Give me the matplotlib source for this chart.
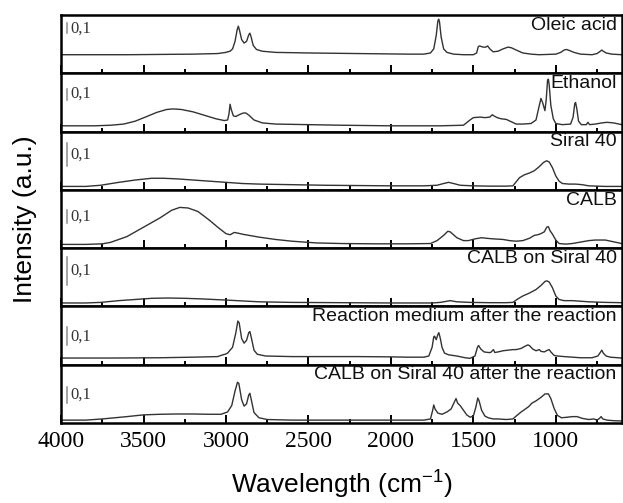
import numpy as np
import matplotlib
matplotlib.use('Agg')
import matplotlib.pyplot as plt
from matplotlib.ticker import MultipleLocator
import matplotlib.transforms as mtransforms

plt.rcParams['font.family'] = 'Liberation Sans'
plt.rcParams['mathtext.fontset'] = 'custom'
plt.rcParams['mathtext.rm'] = 'Liberation Sans'
plt.rcParams['mathtext.default'] = 'regular'

# spectra: wavenumber (cm-1) and intensity (fraction of panel height)
oleic_wn = [4000, 3800, 3600, 3400, 3200, 3050, 3000, 2990, 2975, 2960, 2945, 2932, 2925, 2918, 2905,
            2890, 2875, 2862, 2855, 2848, 2835, 2815, 2780, 2700, 2500, 2200, 1900, 1800, 1760, 1740,
            1725, 1715, 1710, 1705, 1695, 1680, 1660, 1620, 1560, 1500, 1480, 1470, 1462, 1440, 1425,
            1413, 1400, 1380, 1350, 1320, 1290, 1270, 1240, 1200, 1150, 1100, 1000, 970, 950, 935,
            915, 890, 850, 780, 750, 730, 721, 712, 695, 660, 600]
oleic_ab = [0.32, 0.32, 0.32, 0.325, 0.33, 0.34, 0.36, 0.37, 0.38, 0.42, 0.55, 0.75, 0.81, 0.74, 0.58,
            0.52, 0.55, 0.66, 0.69, 0.63, 0.48, 0.41, 0.38, 0.36, 0.35, 0.34, 0.33, 0.33, 0.35, 0.42,
            0.65, 0.90, 0.93, 0.88, 0.62, 0.42, 0.36, 0.33, 0.32, 0.32, 0.35, 0.46, 0.47, 0.45, 0.45,
            0.47, 0.42, 0.37, 0.38, 0.42, 0.45, 0.44, 0.40, 0.35, 0.33, 0.32, 0.33, 0.36, 0.40, 0.41,
            0.39, 0.36, 0.33, 0.32, 0.34, 0.38, 0.40, 0.38, 0.35, 0.33, 0.32]

ethanol_wn = [4000, 3800, 3700, 3620, 3550, 3480, 3420, 3360, 3320, 3270, 3200, 3130, 3060, 3010,
              2990, 2982, 2975, 2968, 2955, 2940, 2920, 2895, 2880, 2860, 2830, 2780, 2700, 2500,
              2300, 2000, 1700, 1560, 1520, 1500, 1460, 1430, 1400, 1385, 1375, 1355, 1330, 1300,
              1270, 1240, 1200, 1150, 1120, 1100, 1090, 1080, 1066, 1058, 1050, 1045, 1040, 1030,
              1015, 1000, 960, 910, 895, 885, 880, 873, 862, 845, 815, 805, 795, 760, 720, 690, 650, 600]
ethanol_ab = [0.10, 0.10, 0.11, 0.13, 0.18, 0.26, 0.33, 0.38, 0.39, 0.38, 0.34, 0.28, 0.22, 0.19,
              0.20, 0.30, 0.47, 0.38, 0.27, 0.26, 0.29, 0.32, 0.32, 0.28, 0.20, 0.15, 0.13, 0.12,
              0.11, 0.10, 0.10, 0.11, 0.20, 0.24, 0.25, 0.24, 0.25, 0.29, 0.27, 0.24, 0.22, 0.21,
              0.17, 0.13, 0.13, 0.14, 0.20, 0.45, 0.57, 0.50, 0.36, 0.55, 0.88, 0.90, 0.80, 0.45,
              0.22, 0.14, 0.12, 0.13, 0.25, 0.48, 0.50, 0.40, 0.18, 0.12, 0.12, 0.16, 0.12, 0.13,
              0.15, 0.16, 0.15, 0.12]

siral_wn = [4000, 3850, 3760, 3650, 3550, 3450, 3380, 3300, 3200, 3100, 3000, 2900, 2800, 2600, 2400,
            2200, 2000, 1800, 1720, 1680, 1650, 1620, 1580, 1500, 1400, 1300, 1260, 1240, 1220, 1190,
            1160, 1130, 1100, 1075, 1056, 1040, 1020, 1000, 980, 960, 920, 880, 840, 800, 700, 600]
siral_ab = [0.06, 0.06, 0.08, 0.13, 0.17, 0.20, 0.20, 0.19, 0.17, 0.15, 0.13, 0.11, 0.10, 0.09, 0.08,
            0.075, 0.07, 0.07, 0.08, 0.11, 0.13, 0.11, 0.08, 0.07, 0.065, 0.065, 0.07, 0.14, 0.21, 0.26,
            0.29, 0.33, 0.40, 0.47, 0.50, 0.48, 0.38, 0.24, 0.15, 0.11, 0.10, 0.10, 0.09, 0.07, 0.06, 0.06]

calb_wn = [4000, 3850, 3750, 3700, 3600, 3500, 3400, 3330, 3280, 3230, 3170, 3100, 3050, 3000, 2975,
           2950, 2930, 2900, 2800, 2700, 2600, 2450, 2300, 2100, 1900, 1760, 1720, 1680, 1655, 1640,
           1600, 1560, 1530, 1490, 1450, 1420, 1380, 1320, 1280, 1240, 1200, 1160, 1130, 1110, 1090,
           1070, 1055, 1045, 1035, 1020, 1000, 980, 940, 900, 860, 800, 760, 700, 650, 600]
calb_ab = [0.065, 0.065, 0.075, 0.10, 0.20, 0.36, 0.52, 0.65, 0.70, 0.69, 0.63, 0.48, 0.36, 0.25, 0.23,
           0.27, 0.26, 0.24, 0.19, 0.15, 0.12, 0.09, 0.08, 0.075, 0.075, 0.08, 0.13, 0.22, 0.29, 0.28,
           0.18, 0.13, 0.13, 0.16, 0.18, 0.17, 0.16, 0.15, 0.13, 0.12, 0.13, 0.17, 0.22, 0.23, 0.25,
           0.28, 0.36, 0.37, 0.30, 0.24, 0.14, 0.08, 0.07, 0.08, 0.10, 0.13, 0.14, 0.14, 0.11, 0.08]

calb_siral_wn = [4000, 3850, 3760, 3650, 3550, 3450, 3350, 3250, 3150, 3000, 2900, 2800, 2600, 2300,
                 2000, 1750, 1700, 1660, 1640, 1600, 1520, 1400, 1300, 1260, 1230, 1200, 1160, 1120,
                 1090, 1065, 1055, 1040, 1020, 1000, 980, 950, 900, 850, 800, 700, 600]
calb_siral_ab = [0.06, 0.06, 0.07, 0.10, 0.12, 0.14, 0.145, 0.14, 0.13, 0.11, 0.095, 0.08, 0.07, 0.065,
                 0.06, 0.06, 0.07, 0.09, 0.10, 0.08, 0.07, 0.065, 0.065, 0.07, 0.13, 0.18, 0.23, 0.29,
                 0.36, 0.43, 0.44, 0.42, 0.32, 0.18, 0.12, 0.10, 0.10, 0.09, 0.08, 0.07, 0.065]

medium_wn = [4000, 3700, 3400, 3200, 3050, 3020, 3005, 2990, 2960, 2940, 2928, 2920, 2905, 2890, 2875,
             2862, 2855, 2845, 2830, 2810, 2760, 2600, 2400, 2200, 2000, 1900, 1800, 1770, 1750, 1740,
             1735, 1725, 1715, 1709, 1700, 1690, 1675, 1650, 1600, 1550, 1520, 1490, 1475, 1468, 1455,
             1435, 1410, 1395, 1385, 1378, 1370, 1350, 1320, 1290, 1260, 1240, 1210, 1185, 1170, 1160,
             1140, 1120, 1100, 1090, 1070, 1050, 1040, 1030, 1010, 990, 950, 900, 850, 780, 745, 728,
             721, 712, 695, 670, 600]
medium_ab = [0.115, 0.115, 0.12, 0.13, 0.14, 0.17, 0.18, 0.20, 0.30, 0.55, 0.75, 0.72, 0.45, 0.37, 0.42,
             0.55, 0.57, 0.45, 0.25, 0.18, 0.15, 0.14, 0.14, 0.14, 0.135, 0.13, 0.13, 0.15, 0.30, 0.48,
             0.49, 0.43, 0.52, 0.55, 0.45, 0.30, 0.20, 0.17, 0.15, 0.12, 0.11, 0.15, 0.30, 0.33, 0.27,
             0.22, 0.21, 0.21, 0.24, 0.26, 0.21, 0.22, 0.24, 0.25, 0.26, 0.26, 0.28, 0.32, 0.34, 0.33,
             0.27, 0.24, 0.26, 0.23, 0.22, 0.25, 0.26, 0.22, 0.16, 0.15, 0.14, 0.13, 0.12, 0.12, 0.15,
             0.22, 0.25, 0.20, 0.15, 0.13, 0.115]

after_wn = [4000, 3850, 3750, 3600, 3500, 3400, 3300, 3200, 3100, 3030, 3010, 2990, 2965, 2945, 2930,
            2922, 2905, 2890, 2875, 2862, 2855, 2845, 2830, 2800, 2750, 2600, 2300, 2000, 1800, 1760,
            1748, 1740, 1732, 1715, 1690, 1660, 1635, 1615, 1605, 1595, 1580, 1560, 1540, 1520, 1500,
            1485, 1473, 1465, 1450, 1430, 1410, 1380, 1350, 1300, 1260, 1240, 1210, 1185, 1165, 1145,
            1120, 1090, 1065, 1045, 1030, 1010, 990, 965, 930, 900, 870, 840, 800, 770, 750, 735,
            725, 715, 690, 650, 600]
after_ab = [0.05, 0.05, 0.07, 0.11, 0.14, 0.15, 0.155, 0.155, 0.15, 0.15, 0.17, 0.19, 0.30, 0.55, 0.70,
            0.68, 0.40, 0.29, 0.33, 0.48, 0.51, 0.38, 0.18, 0.09, 0.06, 0.05, 0.05, 0.05, 0.05, 0.07,
            0.20, 0.31, 0.24, 0.17, 0.15, 0.19, 0.24, 0.36, 0.42, 0.34, 0.30, 0.22, 0.14, 0.10, 0.12,
            0.27, 0.43, 0.38, 0.22, 0.12, 0.09, 0.07, 0.07, 0.06, 0.07, 0.12, 0.19, 0.24, 0.28, 0.34,
            0.38, 0.44, 0.50, 0.50, 0.42, 0.25, 0.13, 0.09, 0.10, 0.11, 0.11, 0.08, 0.06, 0.07, 0.05,
            0.08, 0.11, 0.07, 0.05, 0.04, 0.035]

labels = ['Oleic acid', 'Ethanol', 'Siral 40', 'CALB', 'CALB on Siral 40',
          'Reaction medium after the reaction', 'CALB on Siral 40 after the reaction']
spectra = [(oleic_wn, oleic_ab), (ethanol_wn, ethanol_ab), (siral_wn, siral_ab),
           (calb_wn, calb_ab), (calb_siral_wn, calb_siral_ab), (medium_wn, medium_ab),
           (after_wn, after_ab)]
# length of the 0,1 scale bar in each panel (same units as the spectra)
bar_len = [0.17, 0.19, 0.39, 0.21, 0.48, 0.30, 0.28]
bar_top = [0.86, 0.74, 0.80, 0.65, 0.85, 0.64, 0.62]

fig, axes = plt.subplots(7, 1, sharex=True, figsize=(6.23, 5.03), dpi=100)
fig.subplots_adjust(left=0.098, right=0.998, top=0.970, bottom=0.159, hspace=0)

for i, ax in enumerate(axes):
    wn, ab = spectra[i]
    ax.plot(wn, ab, color='#333333', lw=1.0)
    ax.set_ylim(0, 1)
    ax.set_yticks([])
    for s in ax.spines.values():
        s.set_linewidth(1.8)
    ax.xaxis.set_major_locator(MultipleLocator(500))
    ax.xaxis.set_minor_locator(MultipleLocator(250))
    ax.tick_params(axis='x', which='major', direction='in', length=5.5, width=1.4, labelbottom=False)
    ax.tick_params(axis='x', which='minor', direction='in', length=3, width=1.4)
    ax.text(0.991, 0.97, labels[i], transform=ax.transAxes, ha='right', va='top',
            fontsize=14, color='#111111')
    # scale bar
    trans = mtransforms.blended_transform_factory(ax.transAxes, ax.transData)
    top = bar_top[i]
    ax.plot([0.011, 0.011], [top - bar_len[i], top], transform=trans, color='#8a8a8a', lw=1.1)
    ax.text(0.017, top - bar_len[i] / 2, '0,1', transform=trans, ha='left', va='center',
            fontsize=12, family='Liberation Serif', color='#333333')

axes[-1].set_xlim(4000, 600)
axes[-1].tick_params(axis='x', which='major', labelbottom=True, labelsize=17, pad=6,
                     labelfontfamily='Liberation Serif')

fig.text(0.548, 0.036, 'Wavelength (cm$^{-1}$)', ha='center', va='center', fontsize=19)
fig.text(0.040, 0.565, 'Intensity (a.u.)', ha='center', va='center', rotation=90, fontsize=19)

plt.savefig('out.png', dpi=100)
